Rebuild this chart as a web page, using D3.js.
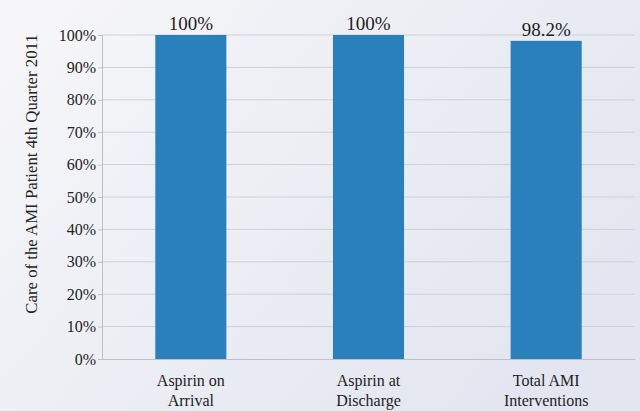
<!DOCTYPE html>
<html>
  <head>
    <style>
      body { margin: 0; }
      svg text { font-family: "Liberation Serif", "Times New Roman", serif !important; }
    </style>
  </head>
  <body>
    <svg id="chart"></svg>
    <script src="https://d3js.org/d3.v7.min.js"></script>
    <script>
      const categories = [["Aspirin on", "Arrival"], ["Aspirin at", "Discharge"], ["Total AMI", "Interventions"]];
      const values = [100, 100, 98.2];
      const valueLabels = ["100%", "100%", "98.2%"];
      const yTicks = [0, 10, 20, 30, 40, 50, 60, 70, 80, 90, 100];

      const width = 640;
      const height = 411;
      const marginTop = 35;
      const marginRight = 5;
      const marginBottom = 52;
      const marginLeft = 102;

      const svg = d3.select("#chart")
        .attr("width", width)
        .attr("height", height);

      // background gradient
      const defs = svg.append("defs");
      const grad = defs.append("linearGradient")
        .attr("id", "bg")
        .attr("x1", "0%").attr("y1", "0%")
        .attr("x2", "100%").attr("y2", "60%");
      grad.append("stop").attr("offset", "0%").attr("stop-color", "#f7f7f9");
      grad.append("stop").attr("offset", "100%").attr("stop-color", "#e3e6f0");
      svg.append("rect").attr("width", width).attr("height", height).attr("fill", "url(#bg)");

      const x = d3.scaleBand()
        .domain(d3.range(values.length))
        .range([marginLeft, width - marginRight])
        .paddingInner(0.6)
        .paddingOuter(0.3);

      const y = d3.scaleLinear()
        .domain([0, 100])
        .range([height - marginBottom, marginTop]);

      // gridlines
      svg.append("g")
        .selectAll("line")
        .data(yTicks.filter(d => d > 0))
        .join("line")
        .attr("x1", marginLeft)
        .attr("x2", width - marginRight)
        .attr("y1", d => y(d))
        .attr("y2", d => y(d))
        .attr("stroke", "#cfd0d6")
        .attr("stroke-width", 1);

      // bars
      svg.append("g")
        .selectAll("rect")
        .data(values)
        .join("rect")
        .attr("x", (d, i) => x(i))
        .attr("y", d => y(d))
        .attr("width", x.bandwidth())
        .attr("height", d => y(0) - y(d))
        .attr("fill", "#2a7fbd");

      // value labels
      svg.append("g")
        .selectAll("text")
        .data(values)
        .join("text")
        .attr("x", (d, i) => x(i) + x.bandwidth() / 2)
        .attr("y", d => y(d) - 5)
        .attr("text-anchor", "middle")
        .attr("font-size", 19)
        .attr("fill", "#222")
        .text((d, i) => valueLabels[i]);

      // y axis
      svg.append("g")
        .attr("transform", `translate(${marginLeft},0)`)
        .call(d3.axisLeft(y).tickValues(yTicks).tickFormat(d => d + "%").tickSize(4))
        .call(g => g.select(".domain").attr("stroke", "#bfc0c6"))
        .call(g => g.selectAll(".tick line").attr("stroke", "#bfc0c6"))
        .call(g => g.selectAll(".tick text")
          .attr("font-size", 16)
          .attr("fill", "#222")
          .attr("x", -6));

      // x axis
      svg.append("g")
        .attr("transform", `translate(0,${height - marginBottom})`)
        .call(d3.axisBottom(x).tickSize(0).tickFormat(""))
        .call(g => g.select(".domain").attr("stroke", "#bfc0c6"));

      svg.append("g")
        .selectAll("text")
        .data(categories)
        .join("text")
        .attr("x", (d, i) => x(i) + x.bandwidth() / 2)
        .attr("y", height - marginBottom + 27)
        .attr("text-anchor", "middle")
        .attr("font-size", 16)
        .attr("fill", "#222")
        .call(t => t.append("tspan").text(d => d[0]))
        .call(t => t.append("tspan")
          .attr("x", (d, i) => x(i) + x.bandwidth() / 2)
          .attr("dy", 20)
          .text(d => d[1]));

      // y title
      svg.append("text")
        .attr("transform", "translate(37,174) rotate(-90)")
        .attr("text-anchor", "middle")
        .attr("font-size", 16.8)
        .attr("fill", "#222")
        .text("Care of the AMI Patient 4th Quarter 2011");
    </script>
  </body>
</html>
